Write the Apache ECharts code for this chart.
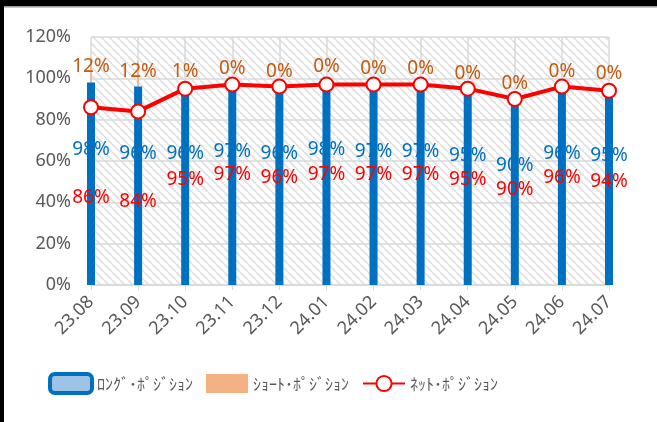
<!DOCTYPE html>
<html>
<head>
<meta charset="utf-8">
<script src="https://cdn.jsdelivr.net/npm/echarts@6/dist/echarts.min.js"></script>
<style>
html,body{margin:0;padding:0;background:#fff;}
#chart{width:657px;height:422px;}
</style>
</head>
<body>
<div id="chart"></div>
<script>
const categories = ['23.08','23.09','23.10','23.11','23.12','24.01','24.02','24.03','24.04','24.05','24.06','24.07'];
const longPos = [98,96,96,97,96,98,97,97,95,90,96,95];
const shortPos = [12,12,1,0,0,0,0,0,0,0,0,0];
const netPos = [86,84,95,97,96,97,97,97,95,90,96,94];
const yTicks = [0,20,40,60,80,100,120];
const seriesNames = ['ﾛﾝｸﾞ･ﾎﾟｼﾞｼｮﾝ','ｼｮｰﾄ･ﾎﾟｼﾞｼｮﾝ','ﾈｯﾄ･ﾎﾟｼﾞｼｮﾝ'];

// hatch pattern for plot background
const pc = document.createElement('canvas');
pc.width = 8; pc.height = 8;
const g = pc.getContext('2d');
g.fillStyle = '#ffffff'; g.fillRect(0,0,8,8);
g.strokeStyle = '#e3e3e3'; g.lineWidth = 2;
[-8,0,8].forEach(k => { g.beginPath(); g.moveTo(k,0); g.lineTo(k+8,8); g.stroke(); });

const fontJP = '"Noto Sans CJK JP","Noto Sans",sans-serif';
const fontNum = '"Noto Sans",sans-serif';

const chart = echarts.init(document.getElementById('chart'), null, {renderer:'canvas'});
chart.setOption({
  animation: false,
  backgroundColor: '#ffffff',
  graphic: [
    {type:'rect', shape:{x:0,y:0,width:657,height:6}, style:{fill:'#000'}, z:100},
    {type:'rect', shape:{x:0,y:6,width:657,height:1.5}, style:{fill:'#9a9a9a'}, z:100},
    {type:'rect', shape:{x:0,y:0,width:4,height:422}, style:{fill:'#000'}, z:100}
  ],
  grid: {
    left: 91, right: 48, top: 37, bottom: 137,
    show: true, borderWidth: 0,
    backgroundColor: {image: pc, repeat: 'repeat'}
  },
  legend: {
    left: 43, top: 367,
    itemWidth: 42, itemHeight: 19, itemGap: 13,
    textStyle: {color:'#595959', fontSize:16, fontFamily: fontJP},
    data: [
      {name: seriesNames[0], icon:'roundRect', itemStyle:{color:'#9DC3E6', borderColor:'#0070C0', borderWidth:4}},
      {name: seriesNames[1], icon:'rect', itemStyle:{color:'#F4B183'}},
      {name: seriesNames[2]}
    ]
  },
  xAxis: [
    {
      type:'category', data: categories, boundaryGap:false,
      axisLine:{show:true, lineStyle:{color:'#d9d9d9', width:1.5}},
      axisTick:{show:true, length:5, lineStyle:{color:'#d9d9d9'}},
      splitLine:{show:true, lineStyle:{color:'#d9d9d9', width:1.5}},
      axisLabel:{rotate:45, color:'#595959', fontSize:18, fontFamily: fontNum, margin:14}
    },
    {
      type:'category', data: categories, boundaryGap:false, show:false
    }
  ],
  yAxis: {
    type:'value', min:0, max:120, interval:20,
    axisLine:{show:false}, axisTick:{show:false},
    splitLine:{lineStyle:{color:'#d9d9d9', width:1.5}},
    axisLabel:{formatter: v => v + '%', color:'#595959', fontSize:18, fontFamily: fontNum, margin:20}
  },
  series: [
    {
      name: seriesNames[0], type:'bar', data: longPos, barWidth: 8,
      itemStyle:{color:'#0070C0'}, z:2,
      label:{show:true, position:['50%', 67], align:'center', verticalAlign:'middle',
        formatter: p => p.value + '%', color:'#0070C0', fontSize:19, fontFamily: fontNum}
    },
    {
      name: 'base', type:'bar', xAxisIndex:1, stack:'s', data: longPos, barWidth: 1.5,
      itemStyle:{color:'rgba(0,0,0,0)'}, silent:true, z:1
    },
    {
      name: seriesNames[1], type:'bar', xAxisIndex:1, stack:'s', data: shortPos, barWidth: 1.5,
      itemStyle:{color:'#F4B183'}, z:1,
      label:{show:true, position:'insideBottom', distance:6,
        formatter: p => p.value + '%', color:'#C55A11', fontSize:19, fontFamily: fontNum}
    },
    {
      name: seriesNames[2], type:'line', data: netPos, z:5,
      lineStyle:{color:'#FF0000', width:4},
      symbol:'emptyCircle', symbolSize:14,
      itemStyle:{color:'#FF0000', borderColor:'#FF0000', borderWidth:3},
      label:{show:true, position:'bottom', distance:73,
        formatter: p => p.value + '%', color:'#FF0000', fontSize:19, fontFamily: fontNum}
    }
  ]
});
</script>
</body>
</html>
